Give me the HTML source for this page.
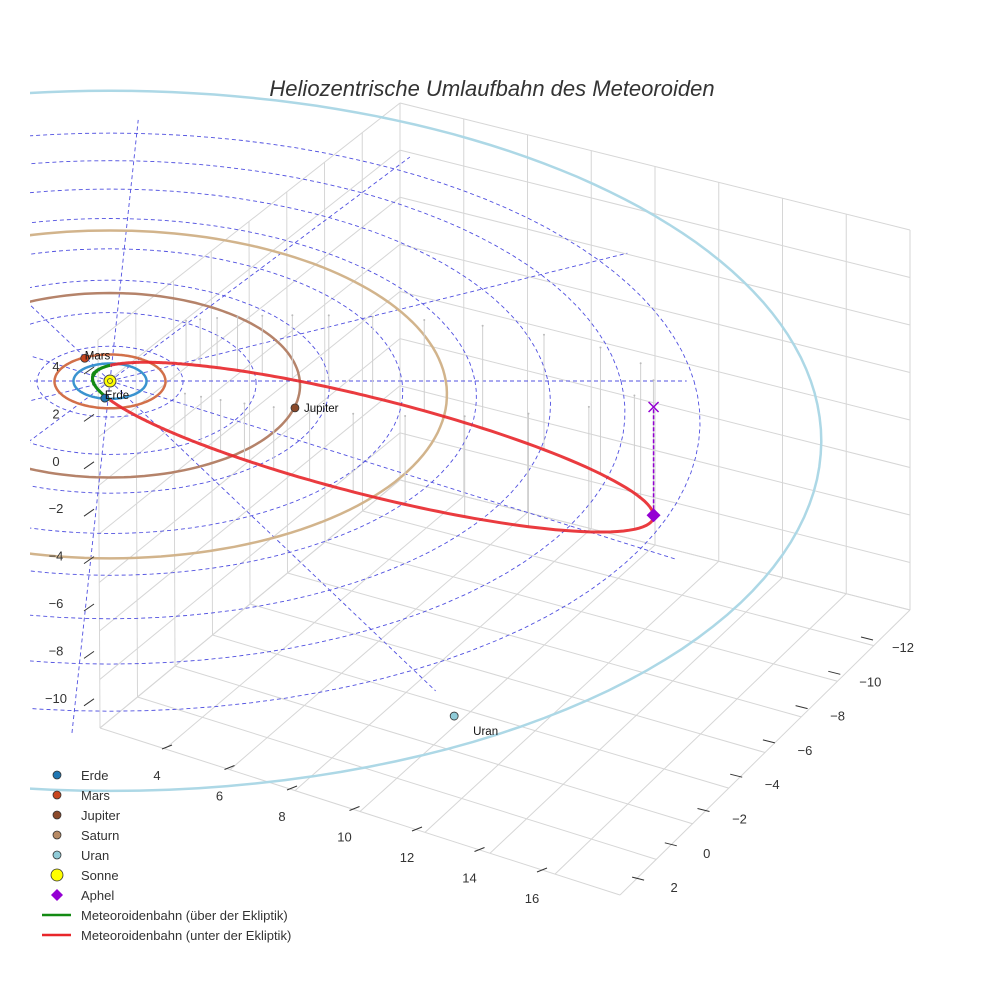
<!DOCTYPE html>
<html><head><meta charset="utf-8"><style>
html,body{margin:0;padding:0;background:#fff;}
svg{display:block;font-family:"Liberation Sans",sans-serif;}
</style></head><body>
<svg id="chart" width="984" height="984" viewBox="0 0 984 984">
<defs><clipPath id="clip"><rect x="30" y="0" width="954" height="984"/></clipPath></defs>
<rect width="984" height="984" fill="#fff"/>
<g id="box"></g>
<g id="plot" clip-path="url(#clip)"></g>
<g id="ticks"></g>
<text x="492" y="96" text-anchor="middle" font-size="22" font-style="italic" fill="#333">Heliozentrische Umlaufbahn des Meteoroiden</text>
<g id="legend"></g>
</svg>
<script>
// ---- data ----
const planetNames = ["Erde","Mars","Jupiter","Saturn","Uran"];
const planetRadii = [1.0, 1.52, 5.2, 9.2, 19.2];
const planetPosX = [-0.14, -0.7, 5.0, null, 8.07];
const planetPosY = [0.96, -1.3, 1.5, null, 16.2];
const planetColors = ["#1f77b4","#c8461e","#8b4a2b","#b88a64","#8fcbd8"];
const orbitColors = ["#3a93cf","#d2704a","#b5836a","#d2b48c","#add8e6"];
const gridRadii = [2,4,6,8,10,12,14,16];
const gridAngles = [33,63,93,123,153,213,243,273,303,333];
const aphelion = [14.7, 1.45, -4.45];
const perihelionDist = [0.5];
const xTickLabels = ["4","6","8","10","12","14","16"];
const yTickLabels = ["-12","-10","-8","-6","-4","-2","0","2"];
const zTickLabels = ["4","2","0","-2","-4","-6","-8","-10"];

// ---- projection ----
function P(x,y,z){ const s=1/(1-0.0089*y); return [110+36.5*x*s, 381+17.7*y*s-24*z*s]; }
const NS="http://www.w3.org/2000/svg";
function mk(tag,attrs,parent){const e=document.createElementNS(NS,tag);for(const k in attrs)e.setAttribute(k,attrs[k]);parent.appendChild(e);return e;}
function pathFrom(pts){return pts.map((p,i)=>(i?"L":"M")+p[0].toFixed(1)+" "+p[1].toFixed(1)).join(" ");}
const plot=document.getElementById('plot'), box=document.getElementById('box'), ticks=document.getElementById('ticks'), legend=document.getElementById('legend');

// ---- box grid (bilinear) ----
const F0=[100,728],B=[400,480],F2=[910,610],F1=[620,895],TB=[400,103],TF0=[98,340],TF2=[910,230];
function bil(a,b,c,d,u,v){
 return [a[0]*(1-u)*(1-v)+b[0]*u*(1-v)+c[0]*u*v+d[0]*(1-u)*v, a[1]*(1-u)*(1-v)+b[1]*u*(1-v)+c[1]*u*v+d[1]*(1-u)*v];}
function gridQuad(a,b,c,d,nu,nv,name){
 for(let i=0;i<=nu;i++){const u=i/nu;const p=bil(a,b,c,d,u,0),q=bil(a,b,c,d,u,1);
  const l=mk('line',{x1:p[0],y1:p[1],x2:q[0],y2:q[1],stroke:'#d6d6d6','stroke-width':1},box);
  
  }
 for(let j=0;j<=nv;j++){const v=j/nv;const p=bil(a,b,c,d,0,v),q=bil(a,b,c,d,1,v);
  const l=mk('line',{x1:p[0],y1:p[1],x2:q[0],y2:q[1],stroke:'#d6d6d6','stroke-width':1},box);
  
  }
}
gridQuad(F0,B,TB,TF0,xTickLabels.length+1,zTickLabels.length,'left-wall');
gridQuad(B,F2,TF2,TB,yTickLabels.length,zTickLabels.length,'right-wall');
gridQuad(F0,F1,F2,B,xTickLabels.length+1,yTickLabels.length,'floor');

// ---- ecliptic dashed grid ----
gridRadii.forEach(r=>{const pts=[];for(let t=0;t<=360;t+=3){const a=t*Math.PI/180;pts.push(P(r*Math.cos(a),r*Math.sin(a),0));}
 const e=mk('path',{d:pathFrom(pts)+"Z",fill:'none',stroke:'#5050e0','stroke-width':0.9,'stroke-dasharray':'4 3'},plot);
 
 });
gridAngles.forEach(t=>{const a=t*Math.PI/180;const p=P(0,0,0),q=P(17*Math.cos(a),17*Math.sin(a),0);
 const e=mk('line',{x1:p[0],y1:p[1],x2:q[0],y2:q[1],stroke:'#5050e0','stroke-width':0.9,'stroke-dasharray':'4 3'},plot);
 
 });
{const p=P(-4,0,0),q=P(15.8,0,0);
 const e=mk('line',{x1:p[0],y1:p[1],x2:q[0],y2:q[1],stroke:'#5050e0','stroke-width':0.9,'stroke-dasharray':'4 3'},plot);
 
 }

// ---- planet orbits ----
planetRadii.forEach((r,i)=>{const pts=[];for(let t=0;t<=360;t+=2){const a=t*Math.PI/180;pts.push(P(r*Math.cos(a),r*Math.sin(a),0));}
 const e=mk('path',{d:pathFrom(pts)+"Z",fill:'none',stroke:orbitColors[i],'stroke-width':2.5},plot);
 
 });

// ---- meteoroid orbit ----
const A=aphelion, Q=Math.hypot(A[0],A[1],A[2]), q=perihelionDist[0];
const a_=(Q+q)/2, ecc=(Q-q)/(Q+q), pl=a_*(1-ecc*ecc);
const Pv=[-A[0]/Q,-A[1]/Q,-A[2]/Q];
let Qv=[0,-1,0];const d=Pv[0]*Qv[0]+Pv[1]*Qv[1]+Pv[2]*Qv[2];Qv=Qv.map((c,k)=>c-d*Pv[k]);const qn=Math.hypot(...Qv);Qv=Qv.map(c=>c/qn);
function orb(nu){const r=pl/(1+ecc*Math.cos(nu));return [0,1,2].map(k=>r*(Math.cos(nu)*Pv[k]+Math.sin(nu)*Qv[k]));}
for(let deg=135;deg<=225;deg+=3.5){const o=orb(deg*Math.PI/180);const p=P(o[0],o[1],o[2]),t=P(o[0],o[1],1.2);
 const s=mk('line',{x1:p[0],y1:p[1],x2:t[0],y2:t[1],stroke:'#cfcfcf','stroke-width':1},plot);
 
 
 const c=mk('circle',{cx:t[0],cy:t[1],r:1,fill:'#bbb'},plot);
 
 }
let seg=[];let cur=null;const segs=[];
for(let deg=-180;deg<=180;deg+=0.5){const o=orb(deg*Math.PI/180);const above=o[2]>=0;const p=P(o[0],o[1],o[2]);
 if(cur===null||above!==cur){if(seg.length)segs.push({above:cur,pts:seg.concat([p])});seg=[p];cur=above;}else seg.push(p);}
segs.push({above:cur,pts:seg});
segs.forEach(s=>{const e=mk('path',{d:pathFrom(s.pts),fill:'none',stroke:s.above?'#138a13':'#e8262a','stroke-width':3,'stroke-opacity':s.above?1:0.9},plot);
 
 });
const ap=P(A[0],A[1],A[2]),ap0=P(A[0],A[1],0);
const al=mk('line',{x1:ap[0],y1:ap[1],x2:ap0[0],y2:ap0[1],stroke:'#9400d3','stroke-width':1.5,'stroke-dasharray':'4 2'},plot);


const ax=mk('path',{d:`M${ap0[0]-5} ${ap0[1]-5}L${ap0[0]+5} ${ap0[1]+5}M${ap0[0]+5} ${ap0[1]-5}L${ap0[0]-5} ${ap0[1]+5}`,stroke:'#9400d3','stroke-width':1.5},plot);


const ad=mk('path',{d:`M${ap[0]} ${ap[1]-7}L${ap[0]+7} ${ap[1]}L${ap[0]} ${ap[1]+7}L${ap[0]-7} ${ap[1]}Z`,fill:'#9400d3'},plot);



// ---- planets ----
planetNames.forEach((n,i)=>{if(planetPosX[i]===null)return;const p=P(planetPosX[i],planetPosY[i],0);
 const c=mk('circle',{cx:p[0],cy:p[1],r:4,fill:planetColors[i],stroke:'#333','stroke-width':0.8},plot);
 
 
 const off=n==="Uran"?[19,19]:(n==="Jupiter"?[9,4]:[0,1]);
 const t=mk('text',{x:p[0]+off[0],y:p[1]+off[1],'font-size':11.5,fill:'#111'},plot);t.textContent=n;
 
 });
const sp=P(0,0,0);
const sun=mk('circle',{cx:sp[0],cy:sp[1],r:6,fill:'#ffff00',stroke:'#444','stroke-width':1},plot);


const sun2=mk('circle',{cx:sp[0],cy:sp[1],r:2.5,fill:'none',stroke:'#444','stroke-width':0.8},plot);



// ---- ticks ----
function tickSet(labels,x0,y0,dx,dy,tx,ty,name){labels.forEach((l,i)=>{const x=x0+dx*i,y=y0+dy*i;
 const m=mk('line',{x1:x+tx[0],y1:y+tx[1],x2:x+tx[2],y2:y+tx[3],stroke:'#333','stroke-width':1},ticks);
 
 
 const t=mk('text',{x:x+ty[0],y:y+ty[1],'font-size':13,fill:'#333','text-anchor':'middle'},ticks);t.textContent=l.replace('-','\u2212');
 
 });}
tickSet(xTickLabels,157,775,62.5,20.5,[5,-26,15,-30],[0,5],'x-axis');
tickSet(yTickLabels,897,647,-32.7,34.3,[-36,-10,-24,-7],[6,5],'y-axis');
tickSet(zTickLabels,56,366,0,47.4,[28,8,38,1],[0,5],'z-axis');

// ---- legend ----
const items=[["Erde","dot",planetColors[0],4],["Mars","dot",planetColors[1],4],["Jupiter","dot",planetColors[2],4],["Saturn","dot",planetColors[3],4],["Uran","dot",planetColors[4],4],["Sonne","dot","#ffff00",6],["Aphel","dia","#9400d3",6],["Meteoroidenbahn (über der Ekliptik)","line","#138a13"],["Meteoroidenbahn (unter der Ekliptik)","line","#e8262a"]];
items.forEach((it,i)=>{const y=775+20*i;const g=mk('g',{},legend);
 
 
 if(it[1]==="dot")mk('circle',{cx:57,cy:y,r:it[3],fill:it[2],stroke:'#333','stroke-width':0.8},g);
 else if(it[1]==="dia")mk('path',{d:`M57 ${y-6}L63 ${y}L57 ${y+6}L51 ${y}Z`,fill:it[2]},g);
 else mk('line',{x1:42,y1:y,x2:71,y2:y,stroke:it[2],'stroke-width':2.5},g);
 const t=mk('text',{x:81,y:y+5,'font-size':13,fill:'#333'},g);t.textContent=it[0];});
</script>
</body></html>
